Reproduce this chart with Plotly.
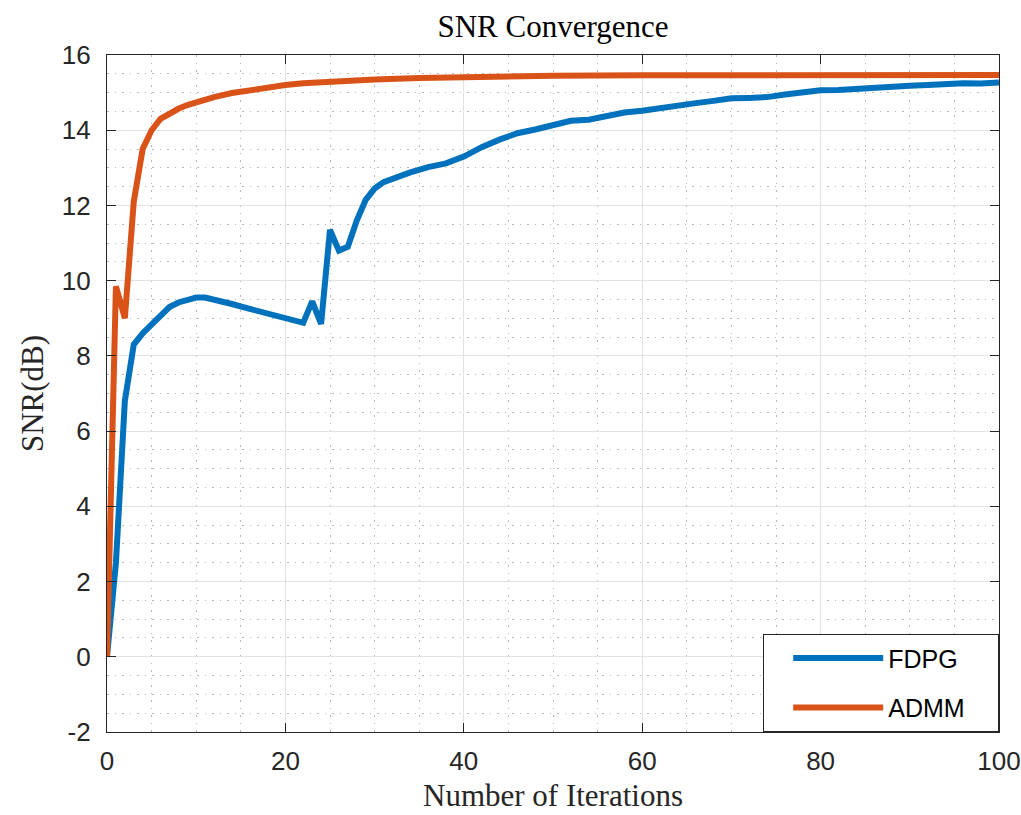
import plotly.graph_objects as go

# ---- data ----
fdpg_iter = [0,1,2,3,4,5,6,7,8,9,10,11,12,14,16,18,20,22,23,24,25,26,27,28,29,30,31,32,34,36,38,40,
             42,44,46,48,50,52,54,56,58,60,62,64,66,68,70,72,74,76,78,80,82,84,86,88,90,92,94,96,98,100]
fdpg_snr = [0,2.5,6.8,8.3,8.6,8.85,9.1,9.3,9.42,9.5,9.55,9.55,9.5,9.38,9.25,9.12,9.0,8.88,9.45,8.85,
            11.35,10.8,10.9,11.6,12.15,12.45,12.62,12.72,12.88,13.02,13.12,13.3,
            13.55,13.75,13.92,14.02,14.15,14.25,14.28,14.38,14.47,14.52,14.6,14.68,14.72,14.78,14.85,
            14.86,14.88,14.95,15.0,15.06,15.07,15.1,15.15,15.16,15.18,15.2,15.23,15.25,15.24,15.27]

admm_iter = [0,1,2,3,4,5,6,7,8,9,10,12,14,16,18,20,22,25,30,35,40,50,60,70,80,100]
admm_snr = [0,9.85,9.0,12.1,13.5,14.0,14.3,14.45,14.57,14.67,14.75,14.88,14.99,15.07,15.14,15.2,
            15.25,15.3,15.35,15.39,15.42,15.45,15.46,15.47,15.47,15.47]

series_names = ["FDPG", "ADMM"]
colors = ["#0072BD", "#D95319"]

x_ticks = [0, 20, 40, 60, 80, 100]
y_ticks = [-2, 0, 2, 4, 6, 8, 10, 12, 14, 16]

SERIF = "Liberation Serif, Times New Roman, serif"
SANS = "Liberation Sans, Arial, Helvetica, sans-serif"
PAD = "\u00a0" * 4

fig = go.Figure()
fig.add_trace(go.Scatter(x=fdpg_iter, y=fdpg_snr, mode="lines", name=series_names[0] + PAD,
                         legendgroup="g1", line=dict(color=colors[0], width=6)))
fig.add_trace(go.Scatter(x=admm_iter, y=admm_snr, mode="lines", name=series_names[1] + PAD,
                         legendgroup="g2", line=dict(color=colors[1], width=6)))

axis_common = dict(
    showline=True, mirror="allticks", linecolor="#262626", linewidth=1.3,
    ticks="inside", ticklen=9, tickcolor="#262626", tickwidth=1.3,
    showgrid=True, gridcolor="#e2e2e2", gridwidth=1.2,
    zeroline=False, automargin=False,
    tickfont=dict(family=SANS, size=26, color="#262626"),
)
minor_grid = dict(showgrid=True, griddash="1.5px,6px", gridcolor="#b8b8b8", gridwidth=1.2, ticks="")

fig.update_xaxes(range=[0, 100], tickvals=x_ticks, ticktext=[str(v) for v in x_ticks],
                 minor=dict(dtick=5, **minor_grid), ticklabelstandoff=6,
                 title=dict(text="Number of Iterations",
                            font=dict(family=SERIF, size=31, color="#262626"), standoff=8),
                 **axis_common)
fig.update_yaxes(range=[-2, 16], tickvals=y_ticks, ticktext=[str(v) for v in y_ticks],
                 minor=dict(dtick=0.5, **minor_grid), ticklabelstandoff=10,
                 title=dict(text="SNR(dB)",
                            font=dict(family=SERIF, size=31, color="#262626"), standoff=8),
                 **axis_common)

fig.update_layout(
    width=1021, height=815,
    margin=dict(l=107, r=22, t=55, b=83),
    paper_bgcolor="white", plot_bgcolor="white",
    title=dict(text="SNR Convergence", x=0.5, xref="paper", xanchor="center",
               y=0.968, yref="container", yanchor="middle",
               font=dict(family=SERIF, size=31, color="black")),
    legend=dict(x=1, y=0, xanchor="right", yanchor="bottom",
                bgcolor="white", bordercolor="#262626", borderwidth=1.3,
                font=dict(family=SANS, size=25, color="black"),
                title=dict(text="\u00a0" * 2, side="left", font=dict(family=SANS, size=25)),
                itemwidth=90, tracegroupgap=14),
    showlegend=True,
)

fig.write_html("out.html", config={"displayModeBar": False},
               post_script="document.body.style.margin='0';document.body.style.overflow='hidden';")
